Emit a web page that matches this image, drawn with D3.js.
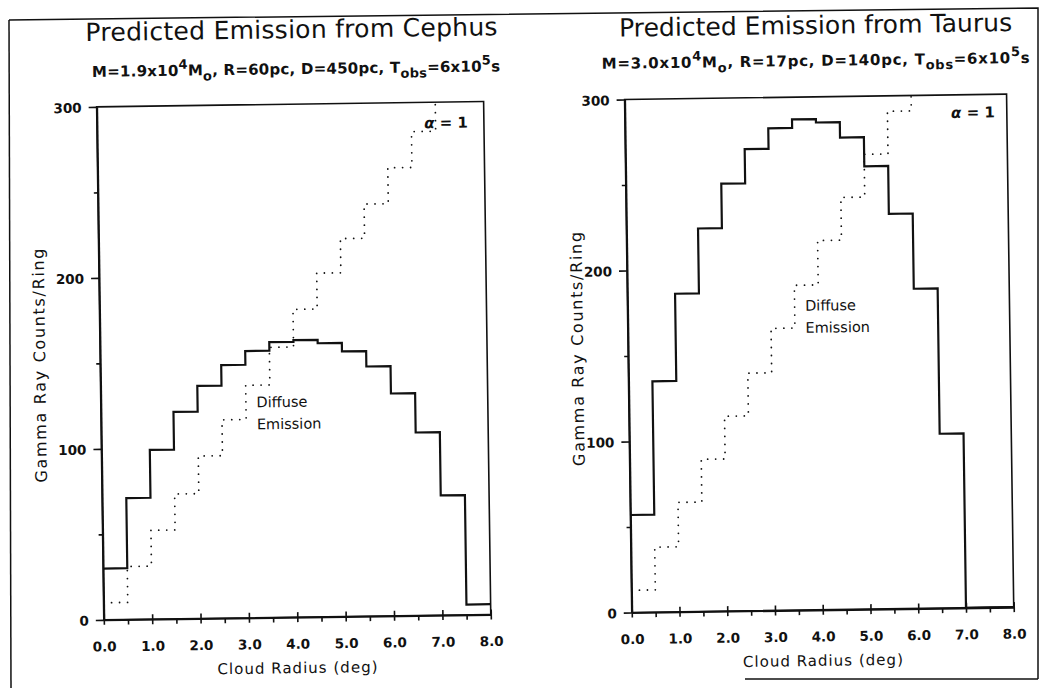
<!DOCTYPE html>
<html>
<head>
<meta charset="utf-8">
<script src="https://cdn.jsdelivr.net/npm/d3@7"></script>
<style>
  body { margin: 0; background: #fff; }
  svg { display: block; font-family: "DejaVu Sans", sans-serif; }
</style>
</head>
<body>
<svg id="chart"></svg>
<script>
let width = 1043;
let height = 688;

// each ring is 0.5 deg wide, values start at these radii
let binStarts = [0, 0.5, 1.0, 1.5, 2.0, 2.5, 3.0, 3.5, 4.0, 4.5, 5.0, 5.5, 6.0, 6.5, 7.0, 7.5];

// Cephus (left)
let cephusCloud   = [30, 71, 99, 121, 136, 148, 156, 161, 162, 160, 155, 146, 130, 107, 70, 6];
let cephusDiffuse = [10, 31, 52, 73, 95, 116, 136, 158, 180, 201, 221, 241, 262, 283, 304];

// Taurus (right)
let taurusCloud   = [57, 135, 186, 224, 250, 270, 282, 287, 285, 276, 259, 231, 187, 102, 0, 0];
let taurusDiffuse = [13, 38, 64, 89, 114, 139, 165, 190, 216, 241, 266, 291, 316];

let xTicks = [0, 1, 2, 3, 4, 5, 6, 7, 8];
let xMinorTicks = [0.5, 1.5, 2.5, 3.5, 4.5, 5.5, 6.5, 7.5];
let yTicks = [0, 100, 200, 300];
let yMinorTicks = [50, 150, 250];

let cephusTitle = 'Predicted Emission from Cephus';
let taurusTitle = 'Predicted Emission from Taurus';
let cephusSub = [['M=1.9x10', 0], ['4', 1], ['M', 0], ['o', -1], [', R=60pc, D=450pc, T', 0], ['obs', -1], ['=6x10', 0], ['5', 1], ['s', 0]];
let taurusSub = [['M=3.0x10', 0], ['4', 1], ['M', 0], ['o', -1], [', R=17pc, D=140pc, T', 0], ['obs', -1], ['=6x10', 0], ['5', 1], ['s', 0]];
let xLabel = 'Cloud Radius (deg)';
let yLabel = 'Gamma Ray Counts/Ring';

let svg = d3.select('#chart').attr('width', width).attr('height', height);

// scanned page frame
let frame = svg.append('g').attr('fill', 'none').attr('stroke', '#111').attr('stroke-width', 1.5);
frame.append('path').attr('d', 'M9,20 L1038,8 L1038,679');
frame.append('path').attr('d', 'M9,20 L11,688');
frame.append('path').attr('d', 'M745,679 L1038,679');

// the page is slightly rotated in the scan
let page = svg.append('g').attr('transform', 'rotate(-0.8, 520, 344)');

let fitWidth = (text, target) => {
  let len = text.node().getComputedTextLength();
  let n = text.text().length;
  text.style('letter-spacing', ((target - len) / (n - 1)) + 'px');
}

let steps = (values) => {
  let pts = values.map((v, i) => [binStarts[i], v]);
  pts.push([binStarts[values.length - 1] + 0.5, values[values.length - 1]]);
  return pts;
}

let drawPanel = (p) => {
  let g = page.append('g');

  let xScale = d3.scaleLinear().domain([0, 8]).range([p.x0, p.x1]);
  let yScale = d3.scaleLinear().domain([0, 300]).range([p.y0, p.y1]);

  let clipId = 'clip-' + p.id;
  g.append('clipPath').attr('id', clipId)
    .append('rect')
    .attr('x', p.x0).attr('y', p.y1)
    .attr('width', p.x1 - p.x0).attr('height', p.y0 - p.y1);

  // box (top + right)
  g.append('rect')
    .attr('x', p.x0).attr('y', p.y1)
    .attr('width', p.x1 - p.x0).attr('height', p.y0 - p.y1)
    .attr('fill', 'none').attr('stroke', '#111').attr('stroke-width', 1.6);

  let line = d3.line()
    .x(d => xScale(d[0]))
    .y(d => yScale(d[1]))
    .curve(d3.curveStepAfter);

  g.append('path')
    .attr('clip-path', 'url(#' + clipId + ')')
    .attr('d', line(steps(p.diffuse)))
    .attr('fill', 'none').attr('stroke', '#111')
    .attr('stroke-width', 1.8)
    .attr('stroke-linecap', 'round')
    .attr('stroke-dasharray', '0 8');

  g.append('path')
    .attr('clip-path', 'url(#' + clipId + ')')
    .attr('d', line(steps(p.cloud)))
    .attr('fill', 'none').attr('stroke', '#111')
    .attr('stroke-width', 2.2);

  // y axis
  let yAxis = g.append('g')
    .attr('transform', 'translate(' + p.x0 + ',0)')
    .call(d3.axisLeft(yScale).tickValues(yTicks).tickSize(8).tickSizeOuter(0).tickPadding(7).tickFormat(d3.format('d')));
  g.append('g')
    .attr('transform', 'translate(' + p.x0 + ',0)')
    .call(d3.axisLeft(yScale).tickValues(yMinorTicks).tickSize(4).tickFormat(''))
    .select('.domain').remove();

  // x axis
  let xAxis = g.append('g')
    .attr('transform', 'translate(0,' + p.y0 + ')')
    .call(d3.axisBottom(xScale).tickValues(xTicks).tickSize(5).tickSizeOuter(0).tickPadding(17).tickFormat(d3.format('.1f')));
  xAxis.selectAll('.tick line').attr('y1', -5);
  g.append('g')
    .attr('transform', 'translate(0,' + p.y0 + ')')
    .call(d3.axisBottom(xScale).tickValues(xMinorTicks).tickSize(5).tickFormat(''))
    .select('.domain').remove();

  g.selectAll('.domain').attr('stroke', '#111').attr('stroke-width', 2);
  g.selectAll('.tick line').attr('stroke', '#111').attr('stroke-width', 1.6);
  g.selectAll('.tick text')
    .attr('fill', '#111')
    .style('font-family', '"DejaVu Sans", sans-serif')
    .style('font-size', '13.5px')
    .style('font-weight', 'bold');
  yAxis.selectAll('.tick text').attr('dy', '0.38em');

  // titles
  let title = g.append('text')
    .attr('x', p.titleX).attr('y', p.titleY)
    .attr('text-anchor', 'middle')
    .style('font-size', '25px')
    .attr('fill', '#111')
    .text(p.title);
  fitWidth(title, p.titleW);

  let sub = g.append('text')
    .attr('x', p.subX).attr('y', p.subY)
    .attr('text-anchor', 'middle')
    .style('font-size', '15px')
    .style('font-weight', 'bold')
    .attr('fill', '#111');
  let shift = 0;
  p.sub.forEach(part => {
    let target = part[1] === 1 ? -7 : part[1] === -1 ? 5 : 0;
    sub.append('tspan')
      .attr('dy', target - shift)
      .style('font-size', part[1] === 0 ? null : '13px')
      .text(part[0]);
    shift = target;
  });
  fitWidth(sub, p.subW);

  // axis labels
  let xl = g.append('text')
    .attr('x', (p.x0 + p.x1) / 2).attr('y', p.y0 + 56)
    .attr('text-anchor', 'middle')
    .style('font-size', '15px')
    .attr('fill', '#111')
    .text(xLabel);
  fitWidth(xl, 160);

  let yl = g.append('text')
    .attr('transform', 'translate(' + p.yLabelX + ',' + p.yLabelY + ') rotate(-90)')
    .attr('text-anchor', 'middle')
    .style('font-size', '16px')
    .attr('fill', '#111')
    .text(yLabel);
  fitWidth(yl, 234);

  // alpha = 1
  g.append('text')
    .attr('x', p.x1 - p.alphaDx).attr('y', p.y1 + p.alphaDy)
    .attr('text-anchor', 'end')
    .style('font-size', '15px')
    .style('font-weight', 'bold')
    .attr('fill', '#111')
    .html('<tspan style="font-style:italic">α</tspan> = 1');

  // diffuse label
  let dl = g.append('text')
    .attr('x', xScale(p.diffLabel[0]))
    .attr('y', yScale(p.diffLabel[1]))
    .style('font-size', '14.5px')
    .attr('fill', '#111');
  dl.append('tspan').attr('x', xScale(p.diffLabel[0])).text('Diffuse');
  dl.append('tspan').attr('x', xScale(p.diffLabel[0])).attr('dy', 22).text('Emission');
}

drawPanel({
  id: 'cephus', x0: 100, x1: 487, y0: 614, y1: 101,
  cloud: cephusCloud, diffuse: cephusDiffuse,
  title: cephusTitle, titleX: 296, titleY: 35, titleW: 412,
  sub: cephusSub, subX: 300, subY: 71, subW: 408,
  yLabelX: 45, yLabelY: 358,
  alphaDx: 16, alphaDy: 26,
  diffLabel: [3.22, 123]
});

drawPanel({
  id: 'taurus', x0: 628, x1: 1010, y0: 614, y1: 101,
  cloud: taurusCloud, diffuse: taurusDiffuse,
  title: taurusTitle, titleX: 820, titleY: 38, titleW: 393,
  sub: taurusSub, subX: 820, subY: 70, subW: 428,
  yLabelX: 583, yLabelY: 349,
  alphaDx: 12, alphaDy: 23,
  diffLabel: [3.72, 175]
});
</script>
</body>
</html>
